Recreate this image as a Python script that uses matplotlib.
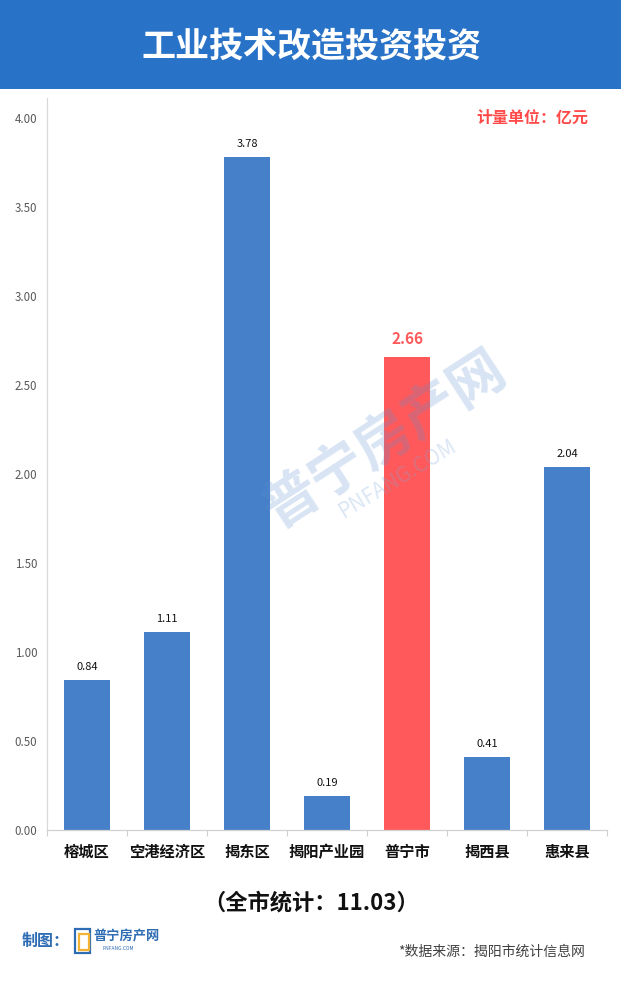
import matplotlib
matplotlib.use("Agg")
import matplotlib.pyplot as plt
from matplotlib.patches import Rectangle

plt.rcParams['font.family'] = ['Noto Sans CJK SC', 'DejaVu Sans']

categories = ['榕城区', '空港经济区', '揭东区', '揭阳产业园', '普宁市', '揭西县', '惠来县']
values = [0.84, 1.11, 3.78, 0.19, 2.66, 0.41, 2.04]
highlight = '普宁市'
yticks = [0.0, 0.5, 1.0, 1.5, 2.0, 2.5, 3.0, 3.5, 4.0]
title = '工业技术改造投资投资'
unit_text = '计量单位：亿元'
total_text = '（全市统计：11.03）'
source_text = '*数据来源：揭阳市统计信息网'

W, H = 621, 983
fig = plt.figure(figsize=(W / 100, H / 100), dpi=100)
fig.patch.set_facecolor('white')


def fx(x):
    return x / W


def fy(y):
    return 1 - y / H


# header band
fig.patches.append(Rectangle((0, fy(89)), 1, 89 / H, transform=fig.transFigure,
                             facecolor='#2873C7', edgecolor='none', zorder=0))
fig.text(fx(311), fy(46), title, color='white', fontsize=24.5, fontweight='bold',
         ha='center', va='center')

# axes
ax_left, ax_right, ax_top, ax_bottom = 47, 607, 98, 830
ax = fig.add_axes([fx(ax_left), fy(ax_bottom), (ax_right - ax_left) / W, (ax_bottom - ax_top) / H])
ax.set_facecolor('none')
ymax = 4.0 + (118 - ax_top) / ((ax_bottom - 118) / 4.0)
ax.set_ylim(0, ymax)
ax.set_xlim(-0.5, len(categories) - 0.5)

blue = '#4580C8'
red = '#FF595B'
colors = [red if c == highlight else blue for c in categories]
x = list(range(len(categories)))
bars = ax.bar(x, values, width=0.575, color=colors, zorder=2)

for xi, v, c in zip(x, values, categories):
    if c == highlight:
        ax.annotate(f'{v:.2f}', (xi, v), xytext=(0, 7), textcoords='offset points',
                    ha='center', va='bottom', fontsize=11, fontweight='bold', color=red)
    else:
        ax.annotate(f'{v:.2f}', (xi, v), xytext=(0, 6), textcoords='offset points',
                    ha='center', va='bottom', fontsize=8, color='#111111')

ax.set_yticks(yticks)
ax.set_yticklabels([f'{t:.2f}' for t in yticks], fontsize=8.3, color='#595959')
ax.tick_params(axis='y', length=0, pad=7)

ax.set_xticks(x)
ax.set_xticklabels(categories, fontsize=11, fontweight='bold', color='#111111')
ax.tick_params(axis='x', length=0, pad=10)
# category boundary ticks
ax.set_xticks([i + 0.5 for i in range(-1, len(categories))], minor=True)
ax.tick_params(axis='x', which='minor', length=4, color='#D0D0D0', width=0.8)

for s in ['top', 'right']:
    ax.spines[s].set_visible(False)
ax.spines['left'].set_color('#D9D9D9')
ax.spines['bottom'].set_color('#D0D0D0')
ax.spines['left'].set_linewidth(0.9)
ax.spines['bottom'].set_linewidth(0.9)

# unit text
fig.text(fx(588), fy(118), unit_text, color='#FF4A4A', fontsize=11.5, fontweight='bold',
         ha='right', va='center')

# watermark
fig.text(fx(385), fy(440), '普宁房产网', color='#5B8FCF', alpha=0.24, fontsize=40,
         fontweight='bold', rotation=33, ha='center', va='center', zorder=5)
fig.text(fx(398), fy(478), 'PNFANG.COM', color='#7FA7DA', alpha=0.28, fontsize=15,
         rotation=31, ha='center', va='center', zorder=5)

# total
fig.text(fx(311), fy(903), total_text, color='#111111', fontsize=16, fontweight='bold',
         ha='center', va='center')

# credit
fig.text(fx(22), fy(941), '制图：', color='#2E6DB4', fontsize=11.5, fontweight='bold',
         ha='left', va='center')
fig.patches.append(Rectangle((fx(75), fy(953)), 15 / W, 24 / H, transform=fig.transFigure,
                             facecolor='none', edgecolor='#2E6DB4', linewidth=1.6, zorder=3))
fig.patches.append(Rectangle((fx(79), fy(950)), 10 / W, 16 / H, transform=fig.transFigure,
                             facecolor='none', edgecolor='#F2B233', linewidth=1.6, zorder=3))
fig.text(fx(93), fy(936), '普宁房产网', color='#2E6DB4', fontsize=9.5, fontweight='bold',
         ha='left', va='center')
fig.text(fx(103), fy(948), 'PNFANG.COM', color='#2E6DB4', fontsize=3.5,
         ha='left', va='center')

fig.text(fx(585), fy(952), source_text, color='#404040', fontsize=10,
         ha='right', va='center')

fig.savefig('out.png', dpi=100)
